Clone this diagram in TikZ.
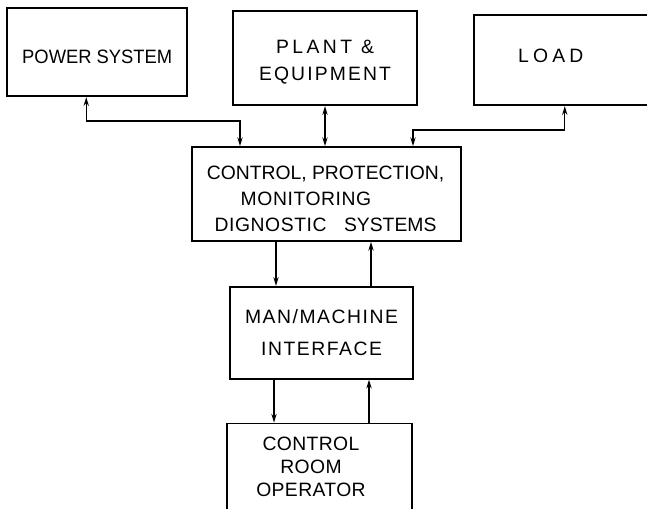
\documentclass[tikz,border=0pt]{standalone}
\usepackage{fontspec}
\setmainfont{Liberation Sans}
\newcommand{\lspace}[1]{\addfontfeature{LetterSpace=#1}}
\usetikzlibrary{arrows.meta,positioning}

\tikzset{
  block/.style={draw, line width=1pt, align=center, inner sep=0pt},
  label text/.style={align=center, inner sep=0pt},
  link/.style={thick, >={Stealth[length=5pt,width=3pt]}}
}

\begin{document}
\fontsize{11}{13}\selectfont
\begin{tikzpicture}[node distance = 1cm, auto]
\useasboundingbox (0,0) rectangle (12.94,-10.16);

\node[block, minimum width=5.38cm, minimum height=1.88cm] (ctrl) at (6.53,-3.88) {};
\node[label text] (ctrltext) at (6.51,-3.98)
  {CONTROL, PROTECTION,\\[1.7pt]{\lspace{3}MONITORING}\hspace{0.78cm}\null\\[1.7pt]{\lspace{3}DIGNOSTIC}\hspace{0.9em}SYSTEMS};
\node[block, minimum width=3.68cm, minimum height=1.88cm, above = 0.8cm of ctrl, xshift=-0.03cm] (plant) {};
\node[label text] (planttext) at ([yshift=-0.08cm]plant.center)
  {{\lspace{18}PLANT \&}\\[2.5pt]{\lspace{11}EQUIPMENT}};
\node[block, minimum width=3.6cm, minimum height=1.76cm, left = 0.88cm of plant, yshift=0.12cm,
  text height=12.5pt, font=\addfontfeature{FakeStretch=0.95}] (power) {POWER SYSTEM};
\node[block, minimum width=3.76cm, minimum height=1.8cm, right = 1.1cm of plant, yshift=-0.04cm] (load) {};
\node[label text, font=\lspace{22}] (loadtext) at ([xshift=-0.34cm, yshift=0.08cm]load.center) {LOAD};
\node[block, minimum width=3.66cm, minimum height=1.84cm, below = 0.88cm of ctrl, xshift=-0.1cm,
  font=\lspace{8}] (mmi) {MAN/MACHINE\\[5pt]INTERFACE};
\node[block, minimum width=3.7cm, minimum height=1.74cm, below = 0.86cm of mmi, xshift=-0.04cm] (cro) {};
\node[label text, font=\lspace{2}] (crotext) at ([xshift=-0.17cm, yshift=0cm]cro.center)
  {CONTROL\\ROOM\\OPERATOR};

% top row to control
\draw[link, <->] ([xshift=-0.22cm]power.south) -- ++(0,-0.48) -| ([xshift=-1.73cm]ctrl.north);
\draw[link, <->] (plant.south) -- (plant.south |- ctrl.north);
\draw[link, <->] ([xshift=-0.06cm]load.south) -- ++(0,-0.48) -| ([xshift=1.73cm]ctrl.north);

% control to man/machine
\draw[link, ->] ([xshift=-1.01cm]ctrl.south) -- ([xshift=-1.01cm]ctrl.south |- mmi.north);
\draw[link, ->] ([xshift=0.89cm]ctrl.south |- mmi.north) -- ([xshift=0.89cm]ctrl.south);

% man/machine to operator
\draw[link, ->] ([xshift=-0.95cm]mmi.south) -- ([xshift=-0.95cm]mmi.south |- cro.north);
\draw[link, ->] ([xshift=0.95cm]mmi.south |- cro.north) -- ([xshift=0.95cm]mmi.south);
\end{tikzpicture}
\end{document}
